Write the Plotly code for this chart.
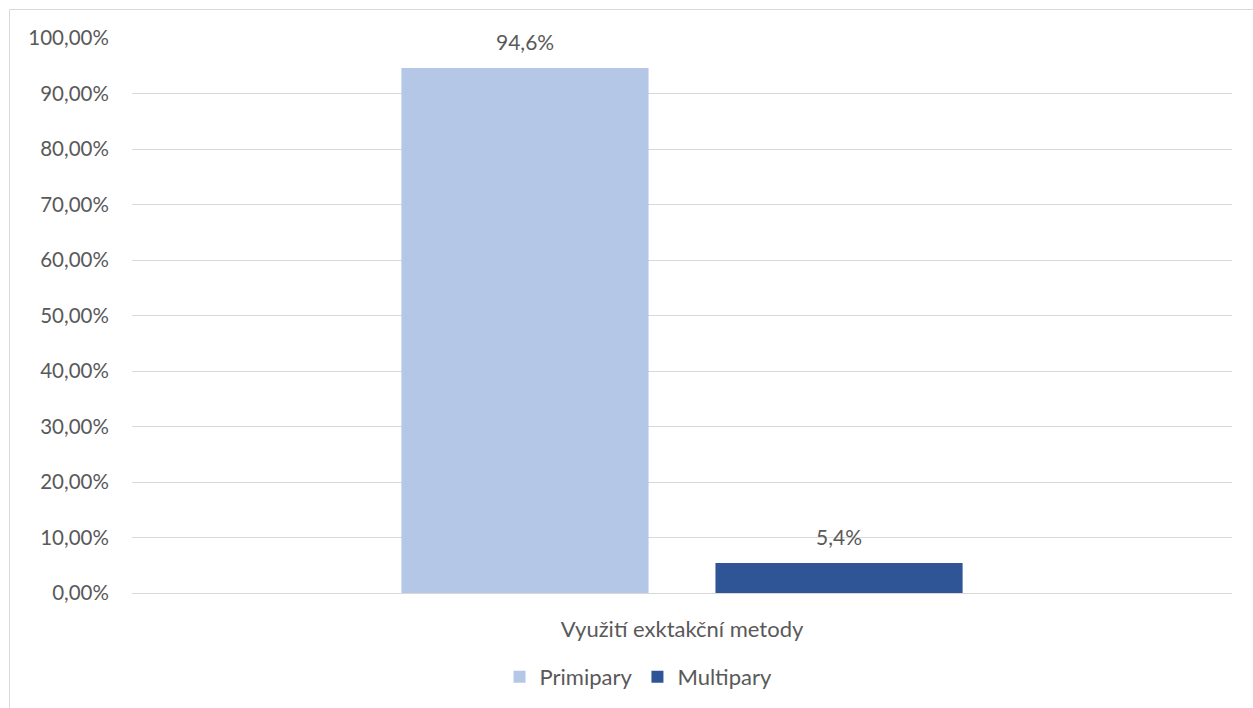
import plotly.graph_objects as go

categories = ["Využití exktakční metody"]
series_names = ["Primipary", "Multipary"]
series_values = [[0.946], [0.054]]
series_colors = ["#B4C7E7", "#2F5597"]
y_ticks = [0, 0.1, 0.2, 0.3, 0.4, 0.5, 0.6, 0.7, 0.8, 0.9, 1.0]

FONT = "Lato, 'Open Sans', sans-serif"
TEXT_COLOR = "#595959"

W, H = 1253, 708
L, R, T, B = 132, 21, 38, 115

BARGAP = 0.429
GROUPGAP = 0.213

fig = go.Figure()
for name, vals, col in zip(series_names, series_values, series_colors):
    fig.add_trace(go.Bar(
        name=name, x=categories, y=vals, marker=dict(color=col, line=dict(width=0)),
    ))

# value labels above each bar
pw = W - L - R
ph = H - T - B
group_frac = 1 - BARGAP
slot = group_frac / len(series_names)
for i, vals in enumerate(series_values):
    for v in vals:
        xc = 0.5 - group_frac / 2 + slot * (i + 0.5)
        fig.add_annotation(
            x=xc, xref="paper", y=v, yref="y",
            text=f"{v*100:.1f}%".replace(".", ","),
            showarrow=False, yanchor="bottom", yshift=12,
            font=dict(family=FONT, size=21, color=TEXT_COLOR),
        )

# chart frame (left and top edges)
x0 = (9.5 - L) / pw
y_top = 1 + (T - 9.5) / ph
frame = dict(color="#D9D9D9", width=1)
fig.add_shape(type="line", xref="paper", yref="paper", x0=x0, x1=x0, y0=y_top, y1=-2, line=frame)
fig.add_shape(type="line", xref="paper", yref="paper", x0=x0, x1=2, y0=y_top, y1=y_top, line=frame)

fig.update_layout(
    width=W, height=H,
    margin=dict(l=L, r=R, t=T, b=B, autoexpand=False),
    paper_bgcolor="white", plot_bgcolor="white",
    separators=", ",
    barmode="group", bargap=BARGAP, bargroupgap=GROUPGAP,
    font=dict(family=FONT, size=21, color=TEXT_COLOR),
    showlegend=True,
    legend=dict(orientation="h", x=638.5 / W, xref="container", xanchor="center",
                y=(H - 677) / H, yref="container", yanchor="middle",
                font=dict(family=FONT, size=22, color=TEXT_COLOR),
                itemwidth=30, traceorder="normal"),
    xaxis=dict(showgrid=False, showline=False, zeroline=False, automargin=False,
               ticks="outside", ticklen=17, tickcolor="rgba(0,0,0,0)",
               tickfont=dict(family=FONT, size=22, color=TEXT_COLOR)),
    yaxis=dict(range=[0, 1.0], tickvals=y_ticks, tickformat=".2%", automargin=False,
               showgrid=True, gridcolor="#D9D9D9", gridwidth=1,
               zeroline=True, zerolinecolor="#D9D9D9", zerolinewidth=1,
               showline=False,
               ticks="outside", ticklen=18, tickcolor="rgba(0,0,0,0)",
               tickfont=dict(family=FONT, size=20.5, color=TEXT_COLOR)),
)

fig.write_html("out.html")
